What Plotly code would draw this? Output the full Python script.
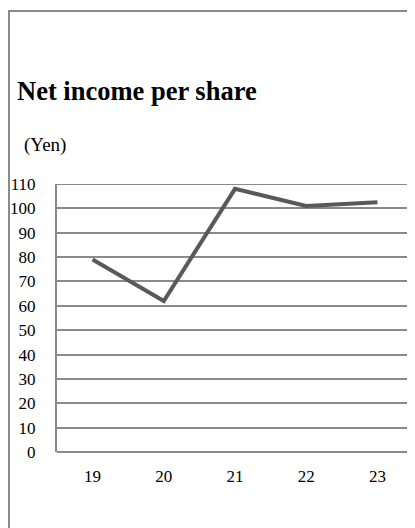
import plotly.graph_objects as go

categories = ["19", "20", "21", "22", "23"]
net_income_per_share = [79, 62, 108, 101, 102.5]
y_ticks = [0, 10, 20, 30, 40, 50, 60, 70, 80, 90, 100, 110]

# page has an 8px body margin; figure coords = page coords - 8
OFF = 8
W, H = 407, 520
L, R, T, B = 57 - OFF, 2, 184 - OFF, 520 - (452 - OFF)
pw, ph = W - L - R, H - T - B

def px_x(x):
    return (x - OFF - L) / pw

def px_y(y):
    return (T + ph - (y - OFF)) / ph

grey = "#8a8a8a"
font_family = "Liberation Serif, Times New Roman, serif"

fig = go.Figure()
fig.add_trace(go.Scatter(
    x=categories, y=net_income_per_share, mode="lines",
    line=dict(color="#595959", width=4), hoverinfo="skip", showlegend=False,
))

fig.update_layout(
    width=W, height=H,
    margin=dict(l=L, r=R, t=T, b=B, pad=0),
    paper_bgcolor="white", plot_bgcolor="white",
    font=dict(family=font_family, color="#000000", size=17),
    title=dict(text="<b>Net income per share</b>", x=(17 - OFF) / W, xanchor="left",
               y=1 - (91 - OFF) / H, yanchor="middle",
               font=dict(family=font_family, size=26.5, color="#000000")),
    xaxis=dict(type="category", range=[-0.5, 4.5], showgrid=False, zeroline=False,
               showline=False, ticks="", ticklen=0, ticklabelstandoff=12,
               tickfont=dict(family=font_family, size=17, color="#000000")),
    yaxis=dict(range=[0, 110], tickvals=y_ticks, showgrid=True, gridcolor=grey,
               gridwidth=2, zeroline=True, zerolinecolor=grey, zerolinewidth=2,
               showline=True, linecolor=grey, linewidth=2, ticks="",
               ticklabelstandoff=16,
               tickfont=dict(family=font_family, size=17, color="#000000")),
    annotations=[dict(text="(Yen)", xref="paper", yref="paper", x=px_x(22), y=px_y(145),
                      xanchor="left", yanchor="middle", showarrow=False,
                      font=dict(family=font_family, size=19, color="#000000"))],
    shapes=[
        dict(type="line", xref="paper", yref="paper", x0=px_x(8), x1=px_x(420),
             y0=px_y(11), y1=px_y(11), line=dict(color=grey, width=2)),
        dict(type="line", xref="paper", yref="paper", x0=px_x(9), x1=px_x(9),
             y0=px_y(11), y1=px_y(535), line=dict(color=grey, width=2)),
        dict(type="line", xref="paper", yref="y", x0=0, x1=1, y0=110, y1=110,
             line=dict(color=grey, width=2), layer="below"),
    ],
)

fig.write_html("out.html")
